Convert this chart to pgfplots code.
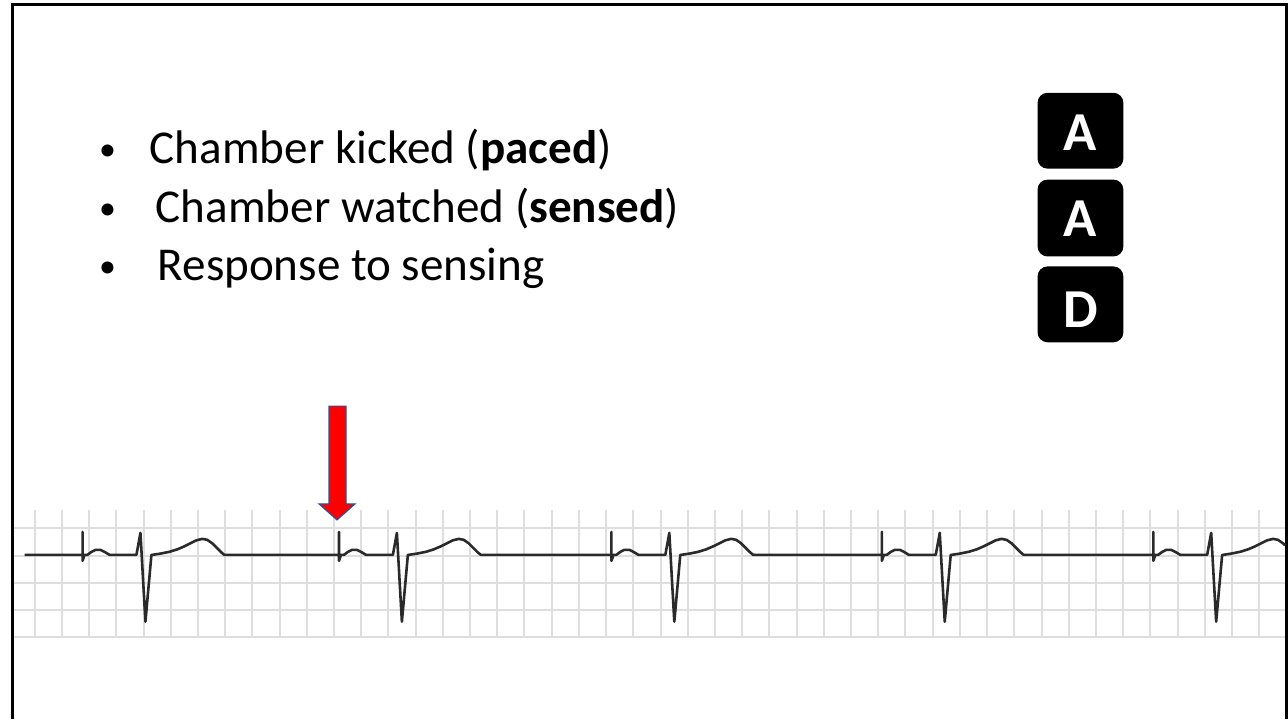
\documentclass[border=0pt]{standalone}
\usepackage{pgfplots}
\pgfplotsset{compat=1.18}
\usepackage{fontspec}
\setmainfont{Carlito}
\definecolor{trace}{HTML}{2A2A2A}
\definecolor{gridc}{HTML}{DEDEDE}
\definecolor{arrowedge}{HTML}{2F528F}
\begin{document}
\begin{tikzpicture}
% ---------- slide frame, text, AAD boxes (pixel coordinates) ----------
\begin{axis}[at={(0,0)},anchor=south west,
  width=644pt,height=360.5pt,scale only axis,
  xmin=0,xmax=1288,ymin=0,ymax=721,y dir=reverse,
  hide axis,clip=false]
\fill[white] (axis cs:0,0) rectangle (axis cs:1288,721);
\draw[line width=1.5pt,black,line join=miter] (axis cs:9.5,721) -- (axis cs:9.5,5) -- (axis cs:1286.5,5) -- (axis cs:1286.5,721);
\begin{scope}[every node/.style={inner sep=0pt,anchor=base west,font=\fontsize{23.6pt}{27pt}\selectfont}]
\node[anchor=base] at (axis cs:105,161) {\fontsize{17pt}{20pt}\selectfont •};
\node at (axis cs:147,164) {Chamber kicked (\textbf{paced})};
\node[anchor=base] at (axis cs:105,220) {\fontsize{17pt}{20pt}\selectfont •};
\node at (axis cs:153,223) {Chamber watched (\textbf{sensed})};
\node[anchor=base] at (axis cs:105,278) {\fontsize{17pt}{20pt}\selectfont •};
\node at (axis cs:155,281) {Response to sensing};
\end{scope}
\fill[black,rounded corners=5pt] (axis cs:1037,93) rectangle (axis cs:1123,169);
\fill[black,rounded corners=5pt] (axis cs:1037,180) rectangle (axis cs:1123,257);
\fill[black,rounded corners=5pt] (axis cs:1037,267) rectangle (axis cs:1123,343);
\begin{scope}[every node/.style={inner sep=0pt,anchor=base,text=white,font=\fontsize{27.5pt}{30pt}\selectfont\bfseries}]
\node at (axis cs:1080,151) {A};
\node at (axis cs:1080,237) {A};
\node at (axis cs:1080,328) {D};
\end{scope}
\end{axis}
% ---------- ECG strip ----------
\begin{axis}[at={(5.5pt,105pt)},anchor=north west,
  width=637pt,height=63.5pt,scale only axis,
  xmin=11,xmax=1285,ymin=511,ymax=638,y dir=reverse,
  xtick={32,59.27,...,1285},ytick={529.5,556.8,584.1,611.4,638},
  grid=major,major grid style={gridc,line width=1pt},
  axis line style={draw=none},tick style={draw=none},
  xticklabels={},yticklabels={},clip=false]
\addplot[trace,line width=1.3pt,line join=round,mark=none] coordinates {
(22,556)
(80,556)(80,533)(80,562)(82,556)(85,556)(89,553)(93,551)(98,551)(102,553)(107,556)
(134,556)(138,534)(143,623)(149,556)(150,556)(158,554.8)(167,553)(175,550.5)(182,547.5)(188,544.5)(194,541.5)(200,540)(205,541)(210,544.5)(215,549.5)(219,553.5)(222,556)
(337,556)(337,533)(337,562)(339,556)(342,556)(346,553)(350,551)(355,551)(359,553)(364,556)
(391,556)(395,534)(400,623)(406,556)(407,556)(415,554.8)(424,553)(432,550.5)(439,547.5)(445,544.5)(451,541.5)(457,540)(462,541)(467,544.5)(472,549.5)(476,553.5)(479,556)
(610,556)(610,533)(610,562)(612,556)(615,556)(619,553)(623,551)(628,551)(632,553)(637,556)
(664,556)(668,534)(673,623)(679,556)(680,556)(688,554.8)(697,553)(705,550.5)(712,547.5)(718,544.5)(724,541.5)(730,540)(735,541)(740,544.5)(745,549.5)(749,553.5)(752,556)
(881,556)(881,533)(881,562)(883,556)(886,556)(890,553)(894,551)(899,551)(903,553)(908,556)
(935,556)(939,534)(944,623)(950,556)(951,556)(959,554.8)(968,553)(976,550.5)(983,547.5)(989,544.5)(995,541.5)(1001,540)(1006,541)(1011,544.5)(1016,549.5)(1020,553.5)(1023,556)
(1153,556)(1153,533)(1153,562)(1155,556)(1158,556)(1162,553)(1166,551)(1171,551)(1175,553)(1180,556)
(1207,556)(1211,534)(1216,623)(1222,556)(1223,556)(1231,554.8)(1240,553)(1248,550.5)(1255,547.5)(1261,544.5)(1267,541.5)(1273,540)(1278,541)(1283,544.5)(1285,546.5)
};
\filldraw[fill=red,draw=arrowedge,line width=0.6pt,line join=miter]
  (axis cs:327,407) -- (axis cs:344,407) -- (axis cs:344,505) -- (axis cs:353,505)
  -- (axis cs:335,521) -- (axis cs:317,505) -- (axis cs:327,505) -- cycle;
\end{axis}
\end{tikzpicture}
\end{document}
